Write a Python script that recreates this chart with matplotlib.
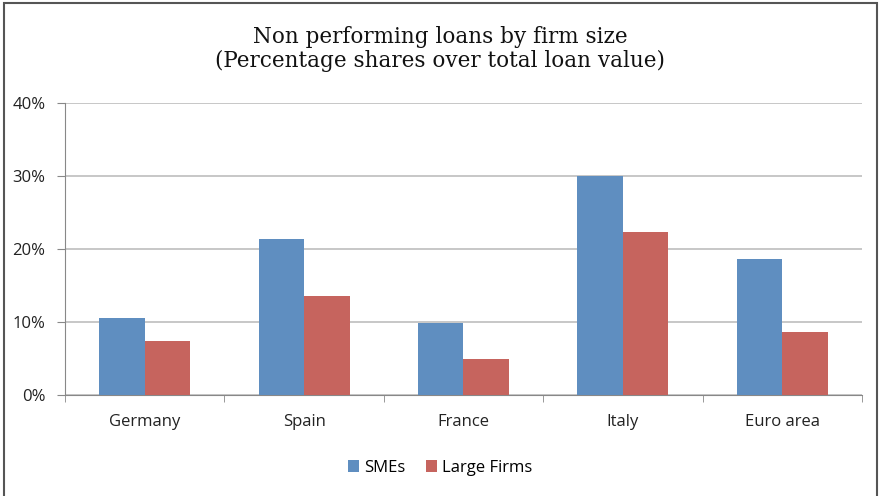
import numpy as np
import matplotlib.pyplot as plt
from matplotlib.patches import Rectangle
from matplotlib.ticker import PercentFormatter

countries = ["Germany", "Spain", "France", "Italy", "Euro area"]
smes = [10.6, 21.4, 9.9, 30.0, 18.6]
large = [7.4, 13.6, 5.0, 22.3, 8.7]

blue = "#5F8EC0"
red = "#C6645E"

fig = plt.figure(figsize=(8.8, 4.96), dpi=100)
ax = fig.add_axes([0.0739, 0.2036, 0.9056, 0.5887])

x = np.arange(len(countries))
w = 0.286
ax.bar(x - w / 2, smes, w, color=blue, label="SMEs", zorder=3)
ax.bar(x + w / 2, large, w, color=red, label="Large Firms", zorder=3)

ax.set_xlim(-0.5, len(countries) - 0.5)
ax.set_ylim(0, 40)
ax.set_yticks([0, 10, 20, 30, 40])
ax.yaxis.set_major_formatter(PercentFormatter(decimals=0))
ax.grid(axis="y", color="#BEBEBE", lw=1.2, zorder=0)

# category labels centred, ticks on the boundaries
ax.set_xticks(x)
ax.set_xticklabels(countries, fontsize=12, family="Open Sans", color="#222222")
ax.tick_params(axis="x", length=0, pad=14)
ax.set_xticks(np.arange(-0.5, len(countries)), minor=True)
ax.tick_params(axis="x", which="minor", length=5, color="#888888", direction="out")
ax.tick_params(axis="y", length=6, color="#888888", labelsize=12, pad=8, labelcolor="#222222")
for t in ax.get_yticklabels():
    t.set_family("Open Sans")

for s in ["top", "right"]:
    ax.spines[s].set_visible(False)
for s in ["left", "bottom"]:
    ax.spines[s].set_color("#888888")

fig.text(0.5, 0.901, "Non performing loans by firm size\n(Percentage shares over total loan value)",
         ha="center", va="center", fontsize=15.5, family="DejaVu Serif",
         linespacing=1.1, color="#111111")

leg = fig.legend(loc="center", bbox_to_anchor=(0.5, 0.057), ncol=2, frameon=False,
                 handlelength=0.7, handleheight=0.7, handletextpad=0.3,
                 columnspacing=1.2, prop={"family": "Open Sans", "size": 12})

fig.patches.append(Rectangle((0.004, -0.01), 0.993, 1.003, transform=fig.transFigure,
                             fill=False, edgecolor="#555555", lw=1.5))

fig.savefig("out.png", dpi=100)
